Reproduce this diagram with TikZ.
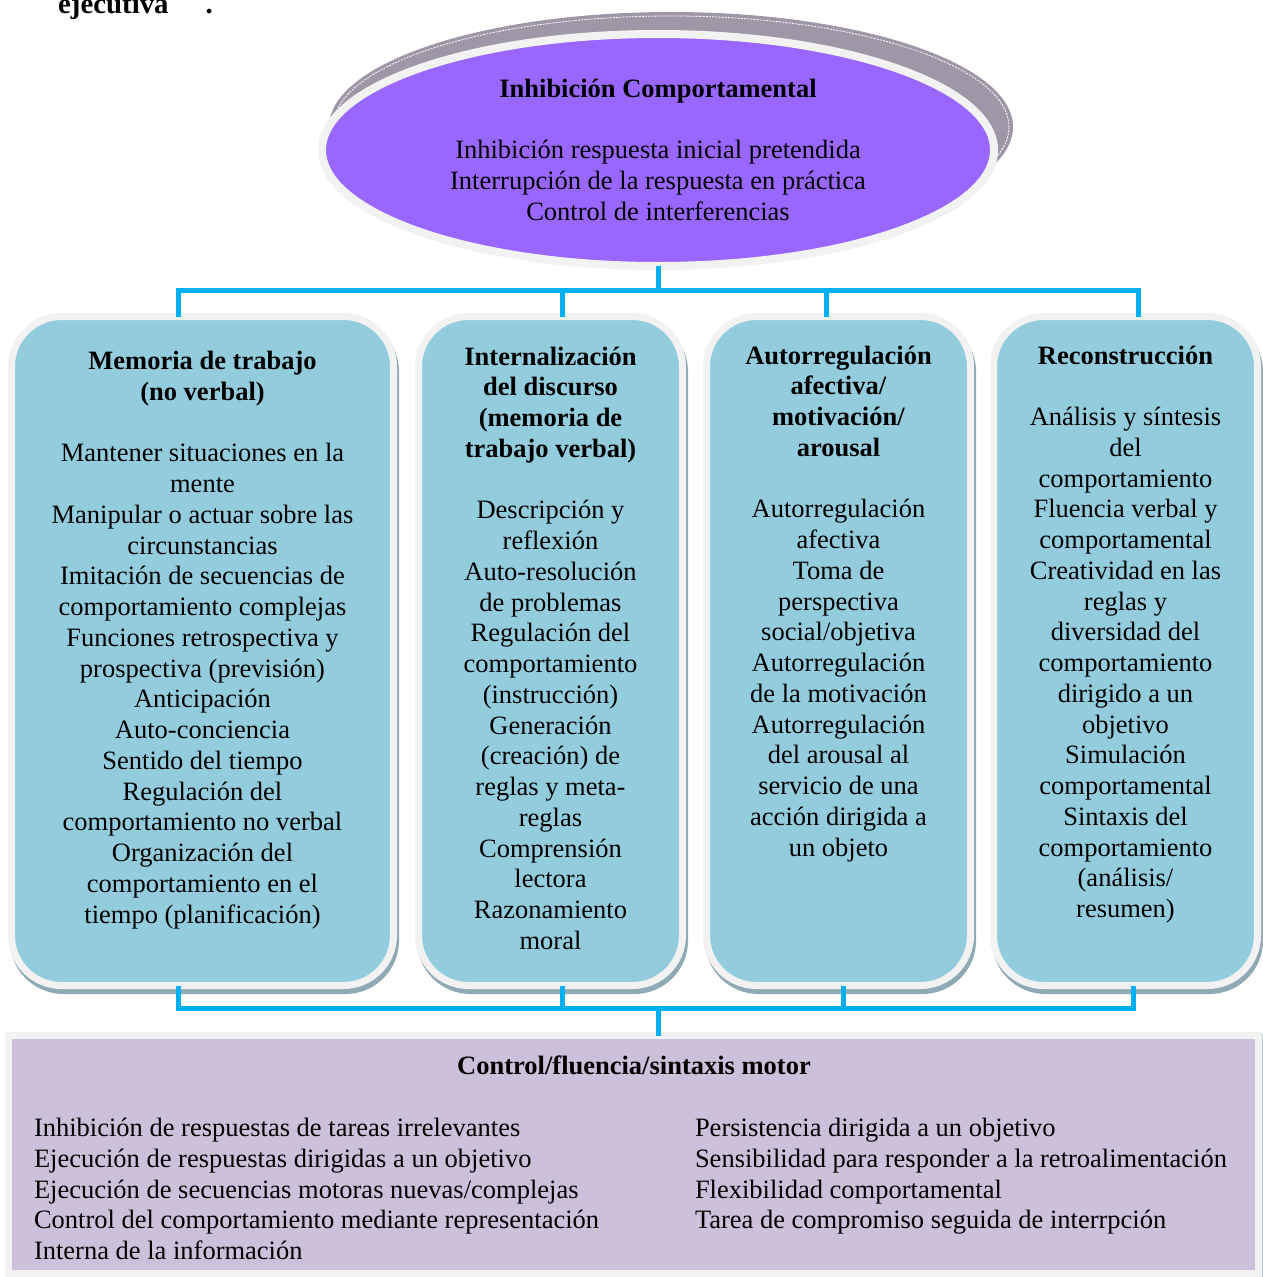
\documentclass[tikz,border=0pt]{standalone}
\usepackage{fontspec}
\setmainfont{Liberation Serif}
\usetikzlibrary{shapes.geometric}
\definecolor{purplec}{RGB}{153,102,255}
\definecolor{ringc}{RGB}{242,242,242}
\definecolor{backc}{RGB}{159,151,168}
\definecolor{tealc}{RGB}{147,205,221}
\definecolor{shadowc}{RGB}{143,170,180}
\definecolor{lilacc}{RGB}{204,192,218}
\definecolor{linkc}{RGB}{0,176,240}
\begin{document}
\begin{tikzpicture}[x=1pt,y=-1pt,
  txt/.style={inner sep=0, outer sep=0, align=center, anchor=north,
    font=\fontsize{26.5}{30.75}\selectfont},
  coltxt/.style={txt, align=left, anchor=north west},
  panel/.style={rectangle, rounded corners=50, fill=tealc, draw=ringc,
    line width=7, inner sep=0, outer sep=0, minimum height=669,
    preaction={fill=shadowc, draw=shadowc, line width=7,
      transform canvas={shift={(2,5)}}}},
  conn/.style={draw=linkc, line width=5, line join=miter}]
\useasboundingbox (0,0) rectangle (1263,1277);

% heading fragment above the chart
\node[anchor=base west, inner sep=0, font=\fontsize{28.8}{33}\selectfont\bfseries]
  (cap) at (58,13) {ejecutiva\hspace{37pt}.};

% top ellipse with its raised back plate
\node[ellipse, fill=backc, minimum width=684, minimum height=230,
  inner sep=0, outer sep=0] (inhback) at (671,127) {};
\draw[white, line width=0.8, dash pattern=on 2pt off 1.2pt]
  (inhback.center) ellipse [x radius=338, y radius=111];
\node[ellipse, fill=purplec, draw=ringc, line width=8, minimum width=672,
  minimum height=232, inner sep=0, outer sep=0] (inh) at (658,150) {};
\node[txt] (inht) at (658,75.5) {\strut\textbf{Inhibición Comportamental}\\ \mbox{}\\
  Inhibición respuesta inicial pretendida\\
  Interrupción de la respuesta en práctica\\
  Control de interferencias};

% the four function panels
\node[panel, minimum width=382] (b1) at (202.5,651) {};
\node[panel, minimum width=264] (b2) at (550.5,651) {};
\node[panel, minimum width=264] (b3) at (838.5,651) {};
\node[panel, minimum width=264] (b4) at (1125.5,651) {};

\node[txt] (b1t) at (202.5,348) {\strut\textbf{Memoria de trabajo}\\ \textbf{(no verbal)}\\ \mbox{}\\
  Mantener situaciones en la\\ mente\\ Manipular o actuar sobre las\\ circunstancias\\
  Imitación de secuencias de\\ comportamiento complejas\\ Funciones retrospectiva y\\
  prospectiva (previsión)\\ Anticipación\\ Auto-conciencia\\ Sentido del tiempo\\
  Regulación del\\ comportamiento no verbal\\ Organización del\\
  comportamiento en el\\ tiempo (planificación)};

\node[txt] (b2t) at (550.5,343.5) {\strut\textbf{Internalización}\\ \textbf{del discurso}\\
  \textbf{(memoria de}\\ \textbf{trabajo verbal)}\\ \mbox{}\\
  Descripción y\\ reflexión\\ Auto-resolución\\ de problemas\\ Regulación del\\
  comportamiento\\ (instrucción)\\ Generación\\ (creación) de\\ reglas y meta-\\
  reglas\\ Comprensión\\ lectora\\ Razonamiento\\ moral};

\node[txt] (b3t) at (838.5,342.5) {\strut\textbf{Autorregulación}\\ \textbf{afectiva/}\\
  \textbf{motivación/}\\ \textbf{arousal}\\ \mbox{}\\
  Autorregulación\\ afectiva\\ Toma de\\ perspectiva\\ social/objetiva\\
  Autorregulación\\ de la motivación\\ Autorregulación\\ del arousal al\\
  servicio de una\\ acción dirigida a\\ un objeto};

\node[txt] (b4t) at (1125.5,342.5) {\strut\textbf{Reconstrucción}\\ \mbox{}\\
  Análisis y síntesis\\ del\\ comportamiento\\ Fluencia verbal y\\ comportamental\\
  Creatividad en las\\ reglas y\\ diversidad del\\ comportamiento\\ dirigido a un\\
  objetivo\\ Simulación\\ comportamental\\ Sintaxis del\\ comportamiento\\
  (análisis/\\ resumen)};

% bottom panel
\node[rectangle, fill=lilacc, draw=ringc, line width=7, minimum width=1250,
  minimum height=238, inner sep=0, outer sep=0,
  preaction={fill=shadowc!60, draw=shadowc!60, line width=7,
    transform canvas={shift={(2,2)}}}] (ctl) at (633.5,1154.5) {};
\node[txt] (ctlt) at (634,1053) {\strut\textbf{Control/fluencia/sintaxis motor}};
\node[coltxt] (ctll) at (34,1115) {\strut Inhibición de respuestas de tareas irrelevantes\\
  Ejecución de respuestas dirigidas a un objetivo\\
  Ejecución de secuencias motoras nuevas/complejas\\
  Control del comportamiento mediante representación\\
  Interna de la información};
\node[coltxt] (ctlr) at (695,1115) {\strut Persistencia dirigida a un objetivo\\
  Sensibilidad para responder a la retroalimentación\\
  Flexibilidad comportamental\\
  Tarea de compromiso seguida de interrpción};

% upper connector bus
\coordinate (busT) at (658,290);
\coordinate (t1) at (178,290);
\coordinate (t2) at (562,290);
\coordinate (t3) at (826,290);
\coordinate (t4) at (1138,290);
\draw[conn] (inh.south) -- (busT);
\draw[conn] (t1 |- b1.north) -- (t1) -- (t4) -- (t4 |- b4.north);
\draw[conn] (t2) -- (t2 |- b2.north);
\draw[conn] (t3) -- (t3 |- b3.north);

% lower connector bus
\coordinate (busB) at (658,1008);
\coordinate (u1) at (178,1008);
\coordinate (u2) at (562,1008);
\coordinate (u3) at (843,1008);
\coordinate (u4) at (1133,1008);
\draw[conn] (u1 |- b1.south) -- (u1) -- (u4) -- (u4 |- b4.south);
\draw[conn] (u2 |- b2.south) -- (u2);
\draw[conn] (u3 |- b3.south) -- (u3);
\draw[conn] (busB) -- (busB |- ctl.north);
\end{tikzpicture}
\end{document}
